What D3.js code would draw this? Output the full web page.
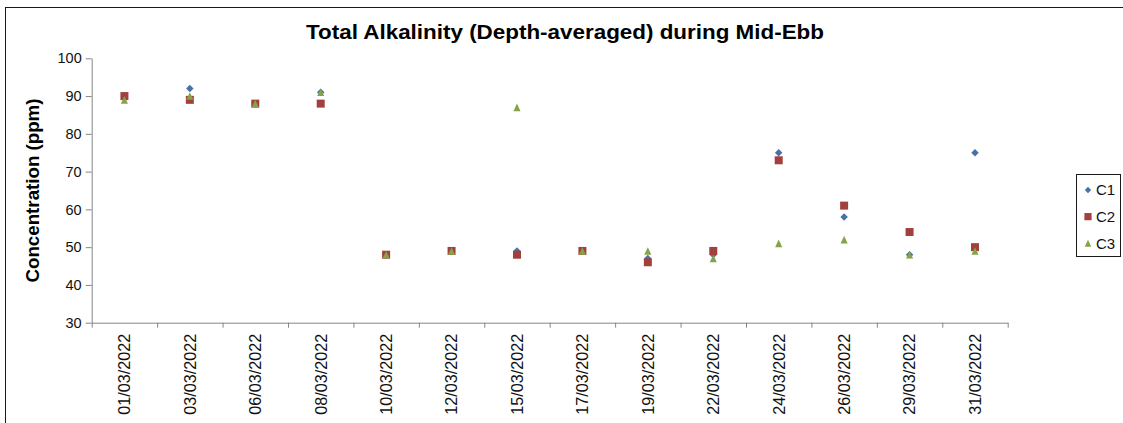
<!DOCTYPE html>
<html>
<head>
<meta charset="utf-8">
<script src="https://cdn.jsdelivr.net/npm/d3@7"></script>
<style>
  html, body { margin: 0; padding: 0; background: #fff; }
  svg { display: block; }
</style>
</head>
<body>
<svg id="chart" width="1123" height="423"></svg>
<script>
// ---- data ----
const dates = ["01/03/2022","03/03/2022","06/03/2022","08/03/2022","10/03/2022","12/03/2022","15/03/2022",
               "17/03/2022","19/03/2022","22/03/2022","24/03/2022","26/03/2022","29/03/2022","31/03/2022"];
const c1 = [90, 92, 88, 91, 48, 49, 49, 49, 47, 48, 75, 58, 48, 75];
const c2 = [90, 89, 88, 88, 48, 49, 48, 49, 46, 49, 73, 61, 54, 50];
const c3 = [89, 90, 88, 91, 48, 49, 87, 49, 49, 47, 51, 52, 48, 49];
const seriesNames = ["C1", "C2", "C3"];
const yTicks = [30, 40, 50, 60, 70, 80, 90, 100];
const titleText = "Total Alkalinity (Depth-averaged) during Mid-Ebb";
const yTitle = "Concentration (ppm)";

// ---- layout / style ----
const colors = ["#4572A7", "#A2403D", "#86A34A"];
const axisColor = "#868686";
const font = "'Liberation Sans', Arial, sans-serif";
const plot = { left: 91.7, right: 1007.7, top: 58.3, bottom: 322.7 };

const svg = d3.select("#chart");

// outer border
svg.append("rect").attr("x", 5.5).attr("y", 7.5).attr("width", 1130).attr("height", 430)
  .attr("fill", "none").attr("stroke", "#1a1a1a").attr("stroke-width", 1);

const x = d3.scaleBand().domain(dates).range([plot.left, plot.right]);
const xEdge = d3.scaleLinear().domain([0, dates.length]).range([plot.left, plot.right]);
const y = d3.scaleLinear().domain([30, 100]).range([plot.bottom, plot.top]);

// y axis
const gy = svg.append("g").attr("transform", `translate(${plot.left},0)`)
  .call(d3.axisLeft(y).tickValues(yTicks).tickSize(6).tickSizeOuter(0).tickPadding(4));
gy.select(".domain").attr("stroke", axisColor);
gy.selectAll(".tick line").attr("stroke", axisColor);
gy.selectAll(".tick text").attr("fill", "#111").style("font-family", font).style("font-size", "14.5px");

// x axis ticks at category boundaries
const gx = svg.append("g").attr("transform", `translate(0,${plot.bottom})`)
  .call(d3.axisBottom(xEdge).tickValues(d3.range(0, dates.length + 1)).tickSize(5).tickSizeOuter(0).tickFormat(""));
gx.select(".domain").attr("stroke", axisColor);
gx.selectAll(".tick line").attr("stroke", axisColor);

// x labels (rotated)
const gxl = svg.append("g").attr("transform", `translate(0,${plot.bottom})`)
  .call(d3.axisBottom(x).tickSize(0).tickPadding(0));
gxl.select(".domain").remove();
gxl.selectAll(".tick text")
  .attr("transform", "rotate(-90)")
  .attr("x", -11).attr("y", 0).attr("dy", "0.36em")
  .attr("text-anchor", "end")
  .attr("fill", "#111")
  .style("font-family", font).style("font-size", "16.2px");

// marker shapes
const diamond = { draw(ctx, size) { const r = Math.sqrt(size) / 2; ctx.moveTo(0, -r); ctx.lineTo(r, 0); ctx.lineTo(0, r); ctx.lineTo(-r, 0); ctx.closePath(); } };
const square = { draw(ctx, size) { const r = Math.sqrt(size) / 2; ctx.rect(-r, -r, 2 * r, 2 * r); } };
const triangle = { draw(ctx, size) { const w = Math.sqrt(size) / 2, h = w * 1.07; ctx.moveTo(0, -h); ctx.lineTo(w, h); ctx.lineTo(-w, h); ctx.closePath(); } };
const shapes = [d3.symbol(diamond, 56), d3.symbol(square, 64), d3.symbol(triangle, 50)];

const allSeries = [c1, c2, c3];
allSeries.forEach((vals, si) => {
  svg.append("g").selectAll("path").data(vals).join("path")
    .attr("d", shapes[si])
    .attr("transform", (d, i) => `translate(${x(dates[i]) + x.bandwidth() / 2},${y(d)})`)
    .attr("fill", colors[si]);
});

// title
svg.append("text").attr("x", 565).attr("y", 39).attr("text-anchor", "middle")
  .attr("textLength", 518).attr("lengthAdjust", "spacingAndGlyphs")
  .style("font-family", font).style("font-weight", "bold").style("font-size", "20.5px")
  .attr("fill", "#000").text(titleText);

// y title
svg.append("text").attr("transform", `translate(39,190.5) rotate(-90)`).attr("text-anchor", "middle")
  .style("font-family", font).style("font-weight", "bold").style("font-size", "17.5px")
  .attr("textLength", 184).attr("lengthAdjust", "spacingAndGlyphs")
  .attr("fill", "#000").text(yTitle);

// legend
const lg = svg.append("g");
lg.append("rect").attr("x", 1076.5).attr("y", 174.5).attr("width", 44).attr("height", 82)
  .attr("fill", "#fff").attr("stroke", "#1a1a1a").attr("stroke-width", 1);
const legendY = d3.scalePoint().domain(seriesNames).range([190, 243.3]);
seriesNames.forEach((n, si) => {
  const legendShapes = [d3.symbol(diamond, 40), d3.symbol(square, 52), d3.symbol(triangle, 44)];
  lg.append("path").attr("d", legendShapes[si])
    .attr("transform", `translate(1088,${legendY(n)})`).attr("fill", colors[si]);
  lg.append("text").attr("x", 1096).attr("y", legendY(n)).attr("dy", "0.36em")
    .style("font-family", font).style("font-size", "15px").attr("fill", "#111").text(n);
});
</script>
</body>
</html>
